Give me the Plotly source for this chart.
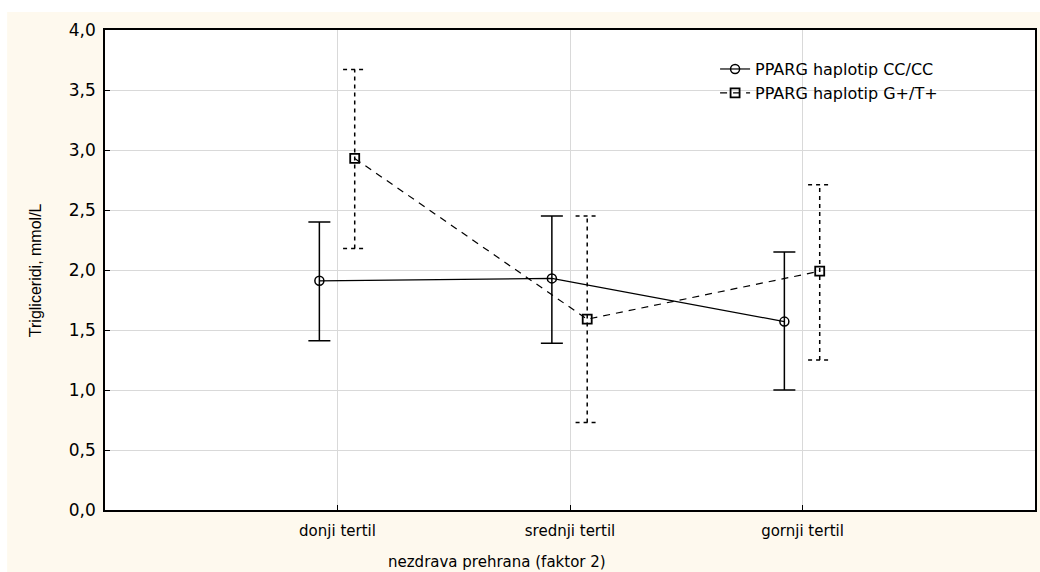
import plotly.graph_objects as go

categories = ["donji tertil", "srednji tertil", "gornji tertil"]
cc_mean = [1.91, 1.93, 1.57]
cc_low = [1.41, 1.39, 1.00]
cc_high = [2.40, 2.45, 2.15]
gt_mean = [2.93, 1.59, 1.99]
gt_low = [2.18, 0.73, 1.25]
gt_high = [3.67, 2.45, 2.71]
y_ticks = [0.0, 0.5, 1.0, 1.5, 2.0, 2.5, 3.0, 3.5, 4.0]

FONT = "DejaVu Sans, Liberation Sans, Arial, sans-serif"
NARROW = "Liberation Sans Narrow, Liberation Sans, Arial"
idx = list(range(len(categories)))
off_cc, off_gt = -0.078, 0.074
x_cc = [i + off_cc for i in idx]
x_gt = [i + off_gt for i in idx]

fig = go.Figure()

fig.add_trace(go.Scatter(
    x=x_cc, y=cc_mean, mode="lines+markers", name="PPARG haplotip CC/CC",
    line=dict(color="black", width=1.2),
    marker=dict(symbol="circle-open", size=9, color="black", line=dict(width=1.5)),
    error_y=dict(type="data", symmetric=False,
                 array=[h - m for h, m in zip(cc_high, cc_mean)],
                 arrayminus=[m - l for m, l in zip(cc_mean, cc_low)],
                 color="black", thickness=1.5, width=11),
))

cap = 0.05
ex, ey = [], []
for xi, lo, hi in zip(x_gt, gt_low, gt_high):
    ex += [xi, xi, None, xi - cap, xi + cap, None, xi - cap, xi + cap, None]
    ey += [lo, hi, None, hi, hi, None, lo, lo, None]
fig.add_trace(go.Scatter(
    x=ex, y=ey, mode="lines", showlegend=False, hoverinfo="skip",
    line=dict(color="black", width=1.5, dash="4px,4px"),
))

fig.add_trace(go.Scatter(
    x=x_gt, y=gt_mean, mode="lines+markers", name="PPARG haplotip G+/T+",
    line=dict(color="black", width=1.2, dash="7px,6px"),
    marker=dict(symbol="square-open", size=9, color="black", line=dict(width=1.8)),
))

fig.add_shape(type="rect", xref="paper", yref="paper",
              x0=-0.1052, x1=1.01, y0=-0.14, y1=1.0375,
              fillcolor="#FEF9EE", line=dict(width=0), layer="below")
fig.add_shape(type="rect", xref="paper", yref="paper",
              x0=0, x1=1, y0=0, y1=1,
              fillcolor="white", line=dict(width=0), layer="below")

fig.add_annotation(text="nezdrava prehrana (faktor 2)", xref="paper", yref="paper",
                   x=0.4217, y=-0.108, xanchor="center", yanchor="middle",
                   showarrow=False, font=dict(family=FONT, size=15, color="black"))
fig.add_annotation(text="Trigliceridi, mmol/L", xref="paper", yref="paper",
                   x=(35 - 105) / 932, y=0.5, xanchor="center", yanchor="middle",
                   textangle=-90, showarrow=False,
                   font=dict(family=NARROW, size=16, color="black"))

fig.update_layout(
    width=1040, height=572,
    margin=dict(l=105, r=3, t=30, b=62),
    paper_bgcolor="white", plot_bgcolor="rgba(0,0,0,0)",
    separators=", ",
    font=dict(family=FONT, size=15, color="black"),
    showlegend=True,
    legend=dict(x=0.656, y=0.954, xanchor="left", yanchor="top",
                bgcolor="rgba(0,0,0,0)", font=dict(family=FONT, size=16),
                tracegroupgap=0, itemwidth=30),
    xaxis=dict(range=[-1, 3], tickvals=idx, ticktext=categories,
               showgrid=True, gridcolor="#D9D9D9", gridwidth=1.2,
               zeroline=False, showline=True, linecolor="black", linewidth=1.5,
               mirror=True, ticks="inside", ticklen=5, tickcolor="black",
               ticklabelstandoff=6,
               tickfont=dict(family=FONT, size=15)),
    yaxis=dict(range=[0, 4], tickvals=y_ticks, tickformat=".1f",
               showgrid=True, gridcolor="#D9D9D9", gridwidth=1.2,
               zeroline=False, showline=True, linecolor="black", linewidth=1.5,
               mirror=True, ticks="inside", ticklen=5, tickcolor="black",
               ticklabelstandoff=4,
               tickfont=dict(family=FONT, size=17)),
)

fig.write_html("out.html", config={"displayModeBar": False},
               post_script="document.body.style.margin='0';")
